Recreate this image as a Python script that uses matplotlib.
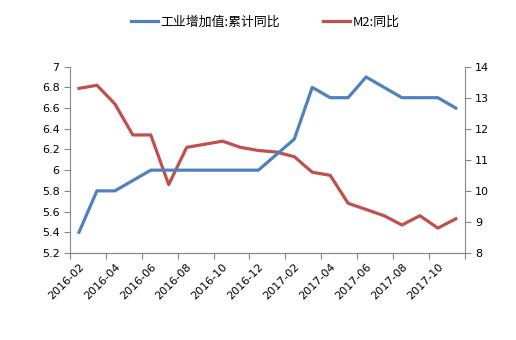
import numpy as np
import matplotlib.pyplot as plt

plt.rcParams['font.family'] = ['DejaVu Sans', 'Noto Sans CJK SC']

months = ['2016-02', '2016-03', '2016-04', '2016-05', '2016-06', '2016-07',
          '2016-08', '2016-09', '2016-10', '2016-11', '2016-12', '2017-01',
          '2017-02', '2017-03', '2017-04', '2017-05', '2017-06', '2017-07',
          '2017-08', '2017-09', '2017-10', '2017-11']
# 工业增加值:累计同比 (no January figure)
ip = [5.4, 5.8, 5.8, 5.9, 6.0, 6.0, 6.0, 6.0, 6.0, 6.0, 6.0, np.nan,
      6.3, 6.8, 6.7, 6.7, 6.9, 6.8, 6.7, 6.7, 6.7, 6.6]
# M2:同比
m2 = [13.3, 13.4, 12.8, 11.8, 11.8, 10.2, 11.4, 11.5, 11.6, 11.4, 11.3, 11.25,
      11.1, 10.6, 10.5, 9.6, 9.4, 9.2, 8.9, 9.2, 8.8, 9.1]

blue = '#4F81BD'
red = '#C0504D'
grey = '#868686'

fig = plt.figure(figsize=(5.16, 3.4), dpi=100)
ax = fig.add_axes([0.1357, 0.256, 0.765, 0.548])
ax2 = ax.twinx()

x = np.arange(len(months))
ip = np.array(ip)
ok = ~np.isnan(ip)
l1, = ax.plot(x[ok], ip[ok], color=blue, lw=2.3, label='工业增加值:累计同比')
l2, = ax2.plot(x, m2, color=red, lw=2.3, label='M2:同比')
ax.set_zorder(ax2.get_zorder() + 1)
ax.patch.set_visible(False)

ax.set_xlim(-0.5, len(months) - 0.5)
ax.set_ylim(5.2, 7.0)
ax.set_yticks(np.arange(5.2, 7.01, 0.2))
ax.set_yticklabels(['%g' % v for v in np.round(np.arange(5.2, 7.01, 0.2), 1)])
ax2.set_ylim(8, 14)
ax2.set_yticks(range(8, 15))

ax.set_xticks(np.arange(-0.5, len(months), 2))
ax.set_xticklabels([])
ax.set_xticks(x[::2], minor=True)
ax.set_xticklabels(months[::2], minor=True, rotation=45, ha='right',
                   rotation_mode='anchor')
ax.tick_params(axis='x', which='minor', length=0, pad=6)

for a in (ax, ax2):
    a.spines['top'].set_visible(False)
    for s in a.spines.values():
        s.set_color(grey)
    a.tick_params(which='major', color=grey, length=4, labelsize=8)
    a.tick_params(which='minor', labelsize=8)
ax.spines['right'].set_visible(False)
ax2.spines['left'].set_visible(False)

fig.legend(handles=[l1, l2], loc='center', bbox_to_anchor=(0.514, 0.935),
           ncol=2, frameon=False, handlelength=2.1,
           columnspacing=3.3, handletextpad=0.2,
           prop={'family': ['Noto Sans CJK SC', 'DejaVu Sans'], 'size': 9.3})

fig.savefig('out.png', dpi=100)
